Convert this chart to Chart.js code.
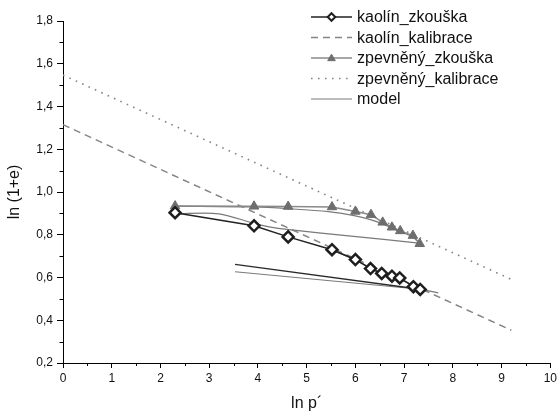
<!DOCTYPE html>
<html>
<head>
<meta charset="utf-8">
<script src="https://cdn.jsdelivr.net/npm/chart.js"></script>
<style>
  body { margin: 0; background: #fff; }
  #wrap { width: 560px; height: 416px; }
</style>
</head>
<body>
<div id="wrap"><canvas id="myChart" width="560" height="416"></canvas></div>
<script>
// kaolín - test (loading)
const kaolinX = [2.30, 3.92, 4.62, 5.52, 6.00, 6.31, 6.54, 6.75, 6.91, 7.19, 7.33];
const kaolinY = [0.903, 0.842, 0.790, 0.730, 0.684, 0.642, 0.619, 0.606, 0.598, 0.557, 0.544];
// kaolín - unloading (no markers)
const kaolinUnloadX = [3.53, 7.33];
const kaolinUnloadY = [0.661, 0.545];

// zpevněný - test
const zpevX = [2.30, 3.92, 4.62, 5.52, 6.00, 6.32, 6.56, 6.75, 6.92, 7.18, 7.32];
const zpevY = [0.934, 0.933, 0.932, 0.930, 0.909, 0.894, 0.858, 0.835, 0.818, 0.796, 0.758];

// calibration lines
const kalibKaolinX = [0, 9.2];
const kalibKaolinY = [1.315, 0.353];
const kalibZpevX = [0, 9.2];
const kalibZpevY = [1.547, 0.591];

// model curves
const model1X = [2.30, 3.20, 3.92, 4.23, 4.64, 5.86, 7.30];
const model1Y = [0.898, 0.898, 0.853, 0.837, 0.824, 0.795, 0.761];
const model2X = [2.30, 3.92, 4.62, 5.45, 6.00, 6.31, 6.56, 6.74, 6.91, 7.17, 7.30];
const model2Y = [0.934, 0.930, 0.922, 0.908, 0.888, 0.871, 0.850, 0.832, 0.815, 0.790, 0.765];
const model3X = [5.52, 6.00, 6.50, 7.00, 7.33, 7.70];
const model3Y = [0.728, 0.682, 0.625, 0.585, 0.548, 0.528];
const model4X = [3.53, 7.33];
const model4Y = [0.627, 0.545];

const xTicks = [0, 10, 1];     // min, max, step
const yTicks = [0.2, 1.8, 0.2];

const pts = (xs, ys) => xs.map((x, i) => ({ x: x, y: ys[i] }));

const modelStyle = {
  showLine: true, borderColor: '#7a7a7a', borderWidth: 1.2, pointRadius: 0,
  fill: false, tension: 0.3, order: 5
};

const datasets = [
  { label: 'kaolín_zkouška', data: pts(kaolinX, kaolinY), showLine: true,
    borderColor: '#222', borderWidth: 1.5, pointStyle: 'rectRot', pointRadius: 5.5,
    pointBorderWidth: 2.5, pointBorderColor: '#1e1e1e', pointBackgroundColor: '#fff', order: 0 },
  { label: 'kaolín_kalibrace', data: pts(kalibKaolinX, kalibKaolinY), showLine: true,
    borderColor: '#858585', borderWidth: 1.5, borderDash: [7, 5], pointRadius: 0, order: 6 },
  { label: 'zpevněný_zkouška', data: pts(zpevX, zpevY), showLine: true,
    borderColor: '#8a8a8a', borderWidth: 1.5, pointStyle: 'triangle', pointRadius: 5.5,
    pointBorderWidth: 1, pointBorderColor: '#6e6e6e', pointBackgroundColor: '#6e6e6e', order: 1 },
  { label: 'zpevněný_kalibrace', data: pts(kalibZpevX, kalibZpevY), showLine: true,
    borderColor: '#858585', borderWidth: 1.6, borderDash: [1.6, 5.4], pointRadius: 0, order: 6 },
  Object.assign({ label: 'model', data: pts(model1X, model1Y) }, modelStyle),
  Object.assign({ label: 'model2', data: pts(model2X, model2Y) }, modelStyle),
  Object.assign({ label: 'model3', data: pts(model3X, model3Y) }, modelStyle),
  Object.assign({ label: 'model4', data: pts(model4X, model4Y) }, modelStyle),
  { label: 'kaolín_odlehčení', data: pts(kaolinUnloadX, kaolinUnloadY), showLine: true,
    borderColor: '#2a2a2a', borderWidth: 1.3, pointRadius: 0, order: 4 }
];

const legendIdx = [0, 1, 2, 3, 4];

// legend drawn in the upper right corner, one entry per row
const cornerLegend = {
  id: 'cornerLegend',
  afterDraw(chart) {
    const ctx = chart.ctx;
    ctx.save();
    legendIdx.forEach((di, row) => {
      const ds = chart.data.datasets[di];
      const y = 17 + row * 20.5;
      ctx.strokeStyle = ds.borderColor;
      ctx.lineWidth = ds.borderWidth;
      ctx.setLineDash(ds.borderDash || []);
      ctx.beginPath();
      ctx.moveTo(311, y);
      ctx.lineTo(352, y);
      ctx.stroke();
      ctx.setLineDash([]);
      if (ds.pointRadius > 0) {
        // small marker in the middle of the sample line
        const r = 3.8, cx = 331.5;
        ctx.fillStyle = ds.pointBackgroundColor;
        ctx.strokeStyle = ds.pointBorderColor;
        ctx.lineWidth = ds.pointBorderWidth > 2 ? 2 : 1;
        ctx.beginPath();
        if (ds.pointStyle === 'rectRot') {
          ctx.moveTo(cx, y - r); ctx.lineTo(cx + r, y);
          ctx.lineTo(cx, y + r); ctx.lineTo(cx - r, y);
        } else {
          ctx.moveTo(cx, y - r); ctx.lineTo(cx + r, y + r * 0.7);
          ctx.lineTo(cx - r, y + r * 0.7);
        }
        ctx.closePath();
        ctx.fill();
        ctx.stroke();
      }
      ctx.fillStyle = '#111';
      ctx.font = '16px "Liberation Sans", Arial, sans-serif';
      ctx.textBaseline = 'middle';
      ctx.fillText(ds.label, 357, y + 1);
    });
    ctx.restore();
  }
};

// small unlabeled ticks between the major ones
const minorTicks = {
  id: 'minorTicks',
  afterDraw(chart) {
    const ctx = chart.ctx;
    const x = chart.scales.x, y = chart.scales.y;
    ctx.save();
    ctx.strokeStyle = '#000';
    ctx.lineWidth = 1;
    ctx.beginPath();
    for (let v = xTicks[0] + 0.5; v < xTicks[1]; v += 1) {
      const px = Math.round(x.getPixelForValue(v)) + 0.5;
      ctx.moveTo(px, y.bottom);
      ctx.lineTo(px, y.bottom + 3);
    }
    for (let v = yTicks[0] + 0.1; v < yTicks[1]; v += 0.2) {
      const py = Math.round(y.getPixelForValue(v)) + 0.5;
      ctx.moveTo(x.left, py);
      ctx.lineTo(x.left - 3.5, py);
    }
    ctx.stroke();
    ctx.restore();
  }
};

const ctx = document.getElementById('myChart').getContext('2d');
new Chart(ctx, {
  type: 'scatter',
  data: { datasets: datasets },
  options: {
    responsive: false,
    animation: false,
    layout: { padding: { top: 21, right: 8, left: 0, bottom: 0 } },
    plugins: { legend: { display: false }, tooltip: { enabled: false } },
    scales: {
      x: {
        type: 'linear', min: xTicks[0], max: xTicks[1],
        afterFit: (s) => { s.height = 53; },
        ticks: { stepSize: xTicks[2], color: '#111', padding: 3,
          font: { family: '"Liberation Sans", Arial, sans-serif', size: 12 } },
        grid: { drawOnChartArea: false, color: '#000', tickLength: 5 },
        border: { color: '#000', width: 1 },
        title: { display: true, text: 'ln p´', color: '#111', padding: { top: 0, bottom: 3 },
          font: { family: '"Liberation Sans", Arial, sans-serif', size: 16 } }
      },
      y: {
        type: 'linear', min: yTicks[0], max: yTicks[1],
        afterFit: (s) => { s.width = 63; },
        ticks: { stepSize: yTicks[2], color: '#111', padding: 4,
          callback: (v) => v.toFixed(1).replace('.', ','),
          font: { family: '"Liberation Sans", Arial, sans-serif', size: 12 } },
        grid: { drawOnChartArea: false, color: '#000', tickLength: 6 },
        border: { color: '#000', width: 1 },
        title: { display: true, text: 'ln (1+e)', color: '#111', padding: { top: 5, bottom: 0 },
          font: { family: '"Liberation Sans", Arial, sans-serif', size: 16 } }
      }
    }
  },
  plugins: [minorTicks, cornerLegend]
});
</script>
</body>
</html>
